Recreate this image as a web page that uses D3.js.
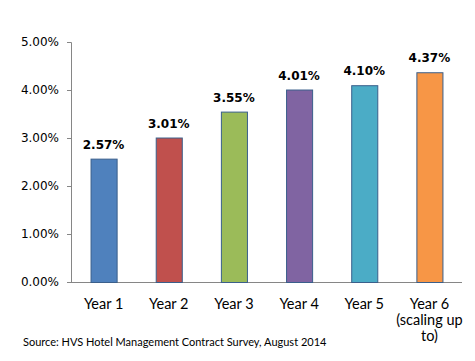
<!DOCTYPE html>
<html>
<head>
<meta charset="utf-8">
<script src="https://cdn.jsdelivr.net/npm/d3@7"></script>
<style>
  body { margin: 0; background: #fff; }
</style>
</head>
<body>
<div id="chart"></div>
<script>
let categories = ["Year 1", "Year 2", "Year 3", "Year 4", "Year 5", "Year 6\n(scaling up\nto)"];
let values = [2.57, 3.01, 3.55, 4.01, 4.10, 4.37];
let colors = ["#4F81BD", "#C0504D", "#9BBB59", "#8064A2", "#4BACC6", "#F79646"];
let yTicks = [0, 1, 2, 3, 4, 5];
let source = "Source: HVS Hotel Management Contract Survey, August 2014";

let width = 475,
    height = 361;

let margin = {
    top: 42,
    bottom: 79,
    left: 71,
    right: 13
}

let visWidth = width - margin.left - margin.right,
    visHeight = height - margin.top - margin.bottom;

let svg = d3.select("#chart")
    .append("svg")
    .attr("width", width)
    .attr("height", height)

let chart = svg.append("g")
    .attr("transform", "translate(" + margin.left + "," + margin.top + ")")

let xScale = d3.scaleBand()
    .domain(categories)
    .range([0, visWidth])
    .paddingInner(0.6)
    .paddingOuter(0.3)

let yScale = d3.scaleLinear()
    .domain([0, 5])
    .range([visHeight, 0])

// y axis
let yAxis = chart.append("g")
    .call(d3.axisLeft(yScale).tickValues(yTicks).tickSize(4).tickPadding(8)
        .tickFormat(d => d.toFixed(2) + "%"))
yAxis.select(".domain").attr("stroke", "#868686")
yAxis.selectAll(".tick line").attr("stroke", "#868686")
yAxis.selectAll(".tick text")
    .attr("font-family", "DejaVu Sans")
    .attr("font-size", 12)
    .attr("fill", "#000")

// x axis line
chart.append("line")
    .attr("x1", 0)
    .attr("x2", visWidth)
    .attr("y1", yScale(0) + 0.5)
    .attr("y2", yScale(0) + 0.5)
    .attr("stroke", "#868686")

chart.selectAll(".bar")
    .data(values)
    .enter().append("rect")
    .attr("class", "bar")
    .attr("x", (d, i) => xScale(categories[i]) + 0.5)
    .attr("y", d => yScale(d) + 0.5)
    .attr("width", xScale.bandwidth())
    .attr("height", d => yScale(0) - yScale(d))
    .attr("fill", (d, i) => colors[i])
    .attr("stroke", "#3A5F8B")
    .attr("stroke-width", 1)

chart.selectAll(".val")
    .data(values)
    .enter().append("text")
    .attr("class", "val")
    .attr("x", (d, i) => xScale(categories[i]) + xScale.bandwidth() / 2)
    .attr("y", d => yScale(d) - 10)
    .attr("text-anchor", "middle")
    .attr("font-family", "DejaVu Sans")
    .attr("font-weight", "bold")
    .attr("font-size", 12)
    .text(d => d.toFixed(2) + "%")

// category labels, may be several lines
let cat = chart.selectAll(".cat")
    .data(categories)
    .enter().append("text")
    .attr("class", "cat")
    .attr("text-anchor", "middle")
    .attr("font-family", "Lato")
    .attr("font-size", 14.5)
    .attr("fill", "#000")
    .attr("transform", d => "translate(" + (xScale(d) + xScale.bandwidth() / 2) + "," + (visHeight + 27) + ")")
cat.selectAll("tspan")
    .data(d => d.split("\n"))
    .enter().append("tspan")
    .attr("x", 0)
    .attr("dy", (d, i) => i == 0 ? 0 : 16)
    .text(d => d)

svg.append("text")
    .attr("x", 23)
    .attr("y", 346)
    .attr("font-family", "Lato")
    .attr("font-size", 11)
    .attr("fill", "#000")
    .text(source)
</script>
</body>
</html>
